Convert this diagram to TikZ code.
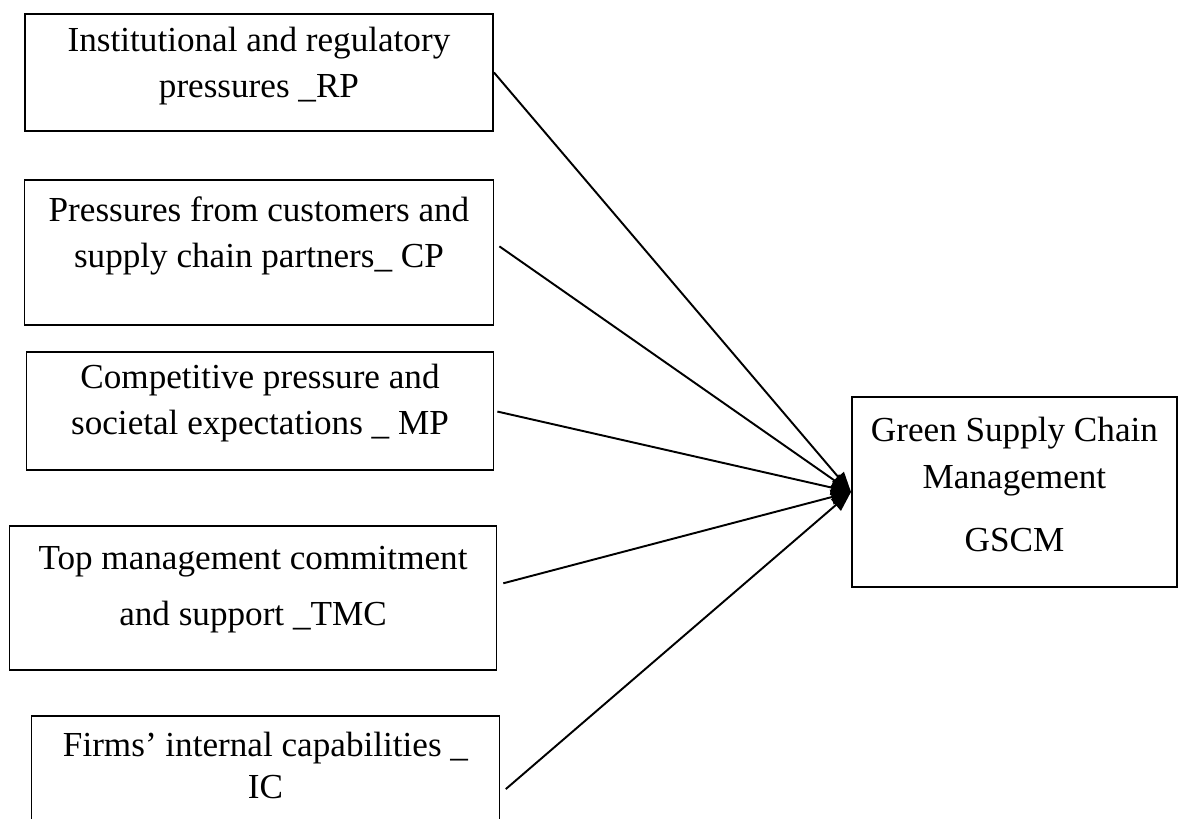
\documentclass[tikz,border=0pt]{standalone}
\usepackage{fontspec}
\setmainfont{Liberation Serif}
\usetikzlibrary{arrows.meta, positioning}
\tikzset{
  factor/.style={rectangle, draw, line width=1.1pt, text width=9.36cm, align=flush center,
                 inner sep=0pt, text height=21.1pt, text depth=45.5pt,
                 font=\fontsize{20}{26.2}\selectfont},
  outcome/.style={rectangle, draw, line width=1.1pt, text width=6.5cm, align=flush center,
                  inner sep=0pt, text height=25.6pt, text depth=82.5pt,
                  font=\fontsize{20}{26.2}\selectfont},
  link/.style={-{Triangle[length=4mm, width=3mm]}, line width=1.1pt},
}

\begin{document}
\begin{tikzpicture}[node distance=0.5cm]
  \useasboundingbox (0,0) rectangle (23.78,-16.38);

  \node[factor, anchor=north] (rp) at (5.18,-0.26) {Institutional and regulatory\\ pressures \_RP};
  \node[factor, below=0.94cm of rp, text width=9.38cm, text height=23.9pt, text depth=58.6pt] (cp) {Pressures from customers and\\ supply chain partners\_ CP};
  \node[factor, below=0.5cm of cp, xshift=0.02cm, text width=9.34cm, text depth=46.1pt] (mp) {Competitive pressure and\\ societal expectations \_ MP};
  \node[factor, below=1.08cm of mp, xshift=-0.14cm, text width=9.74cm, text height=25pt, text depth=56.9pt] (tmc) {Top management commitment\\[5.7pt] and support \_TMC};
  \node[factor, below=0.88cm of tmc, xshift=0.25cm, text height=23.3pt, text depth=65.4pt] (ic) {Firms’ internal capabilities \_\\[-2.3pt] IC};

  \node[outcome, anchor=west] (gscm) at (17.02,-9.84) {Green Supply Chain\\ Management\\[10pt] GSCM};

  \draw[link] (rp.east)--(gscm.west); \draw[link, shorten <=1.2mm] ([yshift=0.19cm]cp.east)--(gscm.west);
  \draw[link, shorten <=0.6mm] (mp.east)--(gscm.west); \draw[link, shorten <=1.2mm] ([yshift=0.26cm]tmc.east)--(gscm.west);
  \draw[link, shorten <=1.4mm] (ic.east)--(gscm.west);
\end{tikzpicture}
\end{document}
